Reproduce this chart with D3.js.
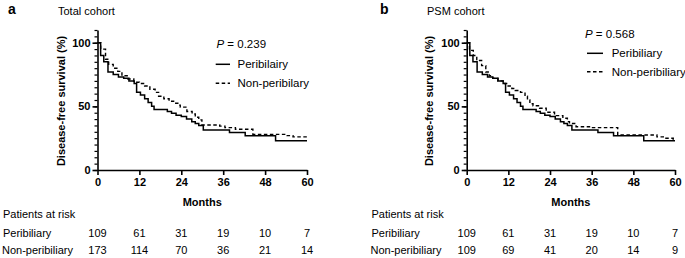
<!DOCTYPE html>
<html><head><meta charset="utf-8">
<script src="https://cdn.jsdelivr.net/npm/d3@7"></script>
<style>
html,body{margin:0;padding:0;background:#fff;}
svg text{font-family:"Liberation Sans",Arial,Helvetica,sans-serif;fill:#000;}
</style></head>
<body><svg id="c" width="685" height="258"></svg>
<script>
// ---- data ----
const xTicks = [0, 12, 24, 36, 48, 60];
const yTicks = [0, 50, 100];
const riskRows = ["Peribiliary", "Non-peribiliary"];

// Panel a: Total cohort
const periTime  = [0, 0.9, 1.8, 3.0, 4.5, 6.0, 7.5, 9.0, 10.5, 11.2, 12.3, 13.5, 14.5, 15.5, 16.2, 20.0, 21.2, 22.5, 24.0, 25.5, 27.0, 28.0, 29.0, 30.3, 37.8, 42.3, 51.0, 60];
const periSurv  = [100, 90, 85, 77, 75, 73, 72, 70, 68, 61, 59, 56, 53, 50, 47.5, 46, 44.5, 43, 42, 40, 38, 36.5, 35, 31.5, 29.5, 27, 23, 23];
const totNonTime = [0, 0.9, 2.3, 3.2, 4.5, 5.8, 7.0, 8.5, 10.4, 12.0, 13.5, 15.0, 16.5, 17.5, 19.0, 20.5, 21.8, 23.0, 23.7, 25.6, 27.1, 28.0, 29.0, 29.9, 35.0, 36.5, 39.5, 44.5, 54.3, 56.0, 60];
const totNonSurv = [100, 95, 87, 83, 80, 77.5, 74, 71.5, 69, 68, 66, 63.5, 61, 58, 56, 54, 52.5, 51, 49.4, 46, 44, 41.5, 39.4, 35.4, 34.5, 33.3, 32, 28, 27, 26, 26];
const totRiskPeri = [109, 61, 31, 19, 10, 7];
const totRiskNon  = [173, 114, 70, 36, 21, 14];

// Panel b: PSM cohort
const psmNonTime = [0, 0.8, 1.9, 2.9, 4.3, 5.5, 6.5, 7.5, 9.0, 10.5, 11.5, 13.0, 14.0, 15.5, 16.8, 17.5, 18.2, 19.1, 21.0, 22.9, 25.3, 27.7, 29.0, 29.6, 31.5, 36.0, 43.5, 54.8, 57.0, 59.5, 60];
const psmNonSurv = [100, 94, 90, 86, 82, 77, 74, 72, 70, 68, 66, 64, 62.5, 61, 58, 55, 52, 50.5, 48.5, 45.4, 42.7, 40.7, 38, 36.5, 34, 33.3, 27.5, 26, 25, 24, 24];
const psmRiskPeri = [109, 61, 31, 19, 10, 7];
const psmRiskNon  = [109, 69, 41, 20, 14, 9];

const panels = [
  {letter:"a", title:"Total cohort", p:"0.239", leg:["Peribilairy","Non-peribilary"],
   x0:97.5, x1:307, lx:3, yLab:61.7, titleX:58, letterX:8,
   pX:216.5, pY:47.5, legLineX:[215.7,230], legTextX:237.5, legY:[64.3,83.3],
   peri:[periTime, periSurv], non:[totNonTime, totNonSurv], risk:[totRiskPeri, totRiskNon]},
  {letter:"b", title:"PSM cohort", p:"0.568", leg:["Peribiliary","Non-peribiliary"],
   x0:466.7, x1:675, lx:371.5, yLab:430, titleX:427, letterX:380,
   pX:585, pY:37.5, legLineX:[587,603], legTextX:611.7, legY:[53.3,71.7],
   peri:[periTime, periSurv], non:[psmNonTime, psmNonSurv], risk:[psmRiskPeri, psmRiskNon]}
];

const svg = d3.select("#c");
const yTop = 30, yBot = 170;

panels.forEach(pn => {
  const g = svg.append("g");
  const x = d3.scaleLinear().domain([0, 60]).range([pn.x0, pn.x1]);
  const y = d3.scaleLinear().domain([0, 110]).range([yBot, yTop]);

  // letter & title
  g.append("text").attr("x", pn.letterX).attr("y", 14).attr("font-size", 14).attr("font-weight", "bold").text(pn.letter);
  g.append("text").attr("x", pn.titleX).attr("y", 14.5).attr("font-size", 11).text(pn.title);

  // y axis minor ticks
  const yAxMinor = d3.axisLeft(y).tickValues(d3.range(0, 111, 5)).tickSize(3).tickFormat("");
  const gyMin = g.append("g").attr("transform", `translate(${pn.x0},0)`).call(yAxMinor);
  gyMin.select(".domain").remove();
  gyMin.selectAll("line").attr("stroke", "#000").attr("stroke-width", 1.2);

  const yAx = d3.axisLeft(y).tickValues(yTicks).tickSize(5).tickSizeOuter(0).tickPadding(2);
  const gy = g.append("g").attr("transform", `translate(${pn.x0},0)`).call(yAx);
  gy.select(".domain").attr("stroke", "#000").attr("stroke-width", 1.6);
  gy.selectAll("line").attr("stroke", "#000").attr("stroke-width", 1.6);
  gy.selectAll("text").attr("font-size", 11).attr("font-weight", "bold").attr("font-family", "Liberation Sans, Arial, sans-serif");

  const xAx = d3.axisBottom(x).tickValues(xTicks).tickSize(5).tickSizeOuter(0).tickPadding(3);
  const gx = g.append("g").attr("transform", `translate(0,${yBot})`).call(xAx);
  gx.select(".domain").attr("stroke", "#000").attr("stroke-width", 1.6);
  gx.selectAll("line").attr("stroke", "#000").attr("stroke-width", 1.6);
  gx.selectAll("text").attr("font-size", 11).attr("font-weight", "bold").attr("font-family", "Liberation Sans, Arial, sans-serif");

  // axis titles
  g.append("text").attr("transform", `translate(${pn.yLab},${(yTop + yBot) / 2 + 1}) rotate(-90)`)
    .attr("text-anchor", "middle").attr("dominant-baseline", "middle")
    .attr("font-size", 11).attr("font-weight", "bold").text("Disease-free survival (%)");
  g.append("text").attr("x", (pn.x0 + pn.x1) / 2).attr("y", 205.5).attr("text-anchor", "middle")
    .attr("font-size", 11).attr("font-weight", "bold").text("Months");

  // curves
  const line = d3.line().x(d => x(d[0])).y(d => y(d[1])).curve(d3.curveStepAfter);
  const periPts = d3.zip(pn.peri[0], pn.peri[1]);
  const nonPts = d3.zip(pn.non[0], pn.non[1]);
  g.append("path").attr("d", line(nonPts)).attr("fill", "none").attr("stroke", "#000")
    .attr("stroke-width", 1.4).attr("stroke-dasharray", "3.5,2.5");
  g.append("path").attr("d", line(periPts)).attr("fill", "none").attr("stroke", "#000")
    .attr("stroke-width", 1.5);

  // legend
  const pt = g.append("text").attr("x", pn.pX).attr("y", pn.pY).attr("font-size", 11.5);
  pt.append("tspan").attr("font-style", "italic").text("P");
  pt.append("tspan").text(" = " + pn.p);
  pn.leg.forEach((lab, i) => {
    g.append("line").attr("x1", pn.legLineX[0]).attr("x2", pn.legLineX[1])
      .attr("y1", pn.legY[i]).attr("y2", pn.legY[i]).attr("stroke", "#000")
      .attr("stroke-width", i === 0 ? 1.5 : 1.4).attr("stroke-dasharray", i === 0 ? null : "3.5,2.5");
    g.append("text").attr("x", pn.legTextX).attr("y", pn.legY[i] + 4).attr("font-size", 11.5).text(lab);
  });

  // risk table
  g.append("text").attr("x", pn.lx).attr("y", 218).attr("font-size", 11).text("Patients at risk");
  const rowY = [236.5, 254];
  riskRows.forEach((r, i) => {
    g.append("text").attr("x", pn.lx + (i === 1 ? -1 : 0)).attr("y", rowY[i]).attr("font-size", 11).text(r);
    g.selectAll(null).data(pn.risk[i]).enter().append("text")
      .attr("x", (d, j) => x(xTicks[j])).attr("y", rowY[i]).attr("text-anchor", "middle")
      .attr("font-size", 11).text(d => d);
  });
});
</script></body></html>
